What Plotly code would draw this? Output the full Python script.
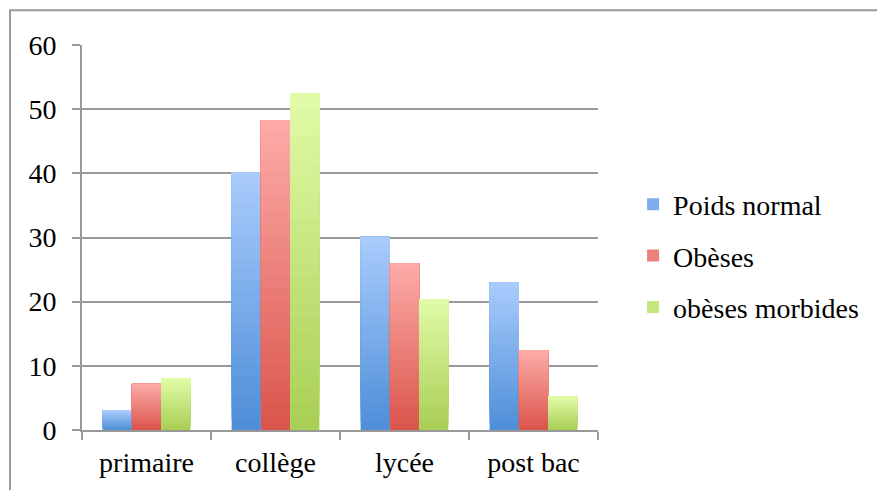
import plotly.graph_objects as go

categories = ["primaire", "collège", "lycée", "post bac"]
series_names = ["Poids normal", "Obèses", "obèses morbides"]
poids_normal = [3.0, 40.2, 30.1, 23.0]
obeses = [7.2, 48.3, 26.0, 12.4]
obeses_morbides = [8.1, 52.5, 20.4, 5.2]
y_ticks = [0, 10, 20, 30, 40, 50, 60]

series_values = [poids_normal, obeses, obeses_morbides]
# (bottom colour, top colour) for the vertical gradient of each series
gradients = [((79, 143, 216), (168, 203, 252)),
             ((218, 86, 76), (253, 170, 167)),
             ((170, 207, 86), (224, 251, 167))]

N = 24
fig = go.Figure()
for s, (name, vals) in enumerate(zip(series_names, series_values)):
    c0, c1 = gradients[s]
    for j in range(N):
        t = j / (N - 1)
        col = "rgb(%d,%d,%d)" % tuple(round(a + (b - a) * t) for a, b in zip(c0, c1))
        frac = j / N
        fig.add_trace(go.Bar(
            x=categories,
            y=[v * (1 - frac) for v in vals],
            base=[v * frac for v in vals],
            name=name,
            legendgroup=name,
            offsetgroup=str(s),
            showlegend=(j == N // 2),
            marker=dict(color=col, line=dict(width=0)),
            hovertext=[f"{name}: {v}" for v in vals],
            hoverinfo="text",
        ))

font = dict(family="Liberation Serif, DejaVu Serif, serif", size=28, color="black")

fig.update_layout(
    width=877, height=482,
    margin=dict(l=74, r=287, t=37, b=58),
    paper_bgcolor="white", plot_bgcolor="white",
    barmode="group", bargap=0.32, bargroupgap=0,
    font=font,
    showlegend=True,
    legend=dict(x=1.068, y=0.452, xanchor="left", yanchor="middle",
                font=dict(family=font["family"], size=28, color="black"),
                tracegroupgap=12, itemwidth=30, bgcolor="rgba(0,0,0,0)"),
    xaxis=dict(type="category", categoryorder="array", categoryarray=categories,
               showgrid=False, showline=True, linecolor="#999999", linewidth=2,
               ticks="outside", tickson="boundaries", ticklen=8, tickwidth=2,
               tickcolor="#999999", ticklabelstandoff=6, fixedrange=True),
    yaxis=dict(range=[0, 60], tickvals=y_ticks, showgrid=True, gridcolor="#999999",
               gridwidth=2, showline=True, linecolor="#999999", linewidth=2,
               ticks="outside", ticklen=8, tickwidth=2, tickcolor="#999999",
               ticklabelstandoff=10, zeroline=False, fixedrange=True),
    shapes=[dict(type="rect", xref="paper", yref="paper",
                 x0=-0.1395, x1=1.6, y0=-0.3, y1=1.0904,
                 line=dict(color="#999999", width=2), layer="below")],
)

fig.write_html("out.html")
